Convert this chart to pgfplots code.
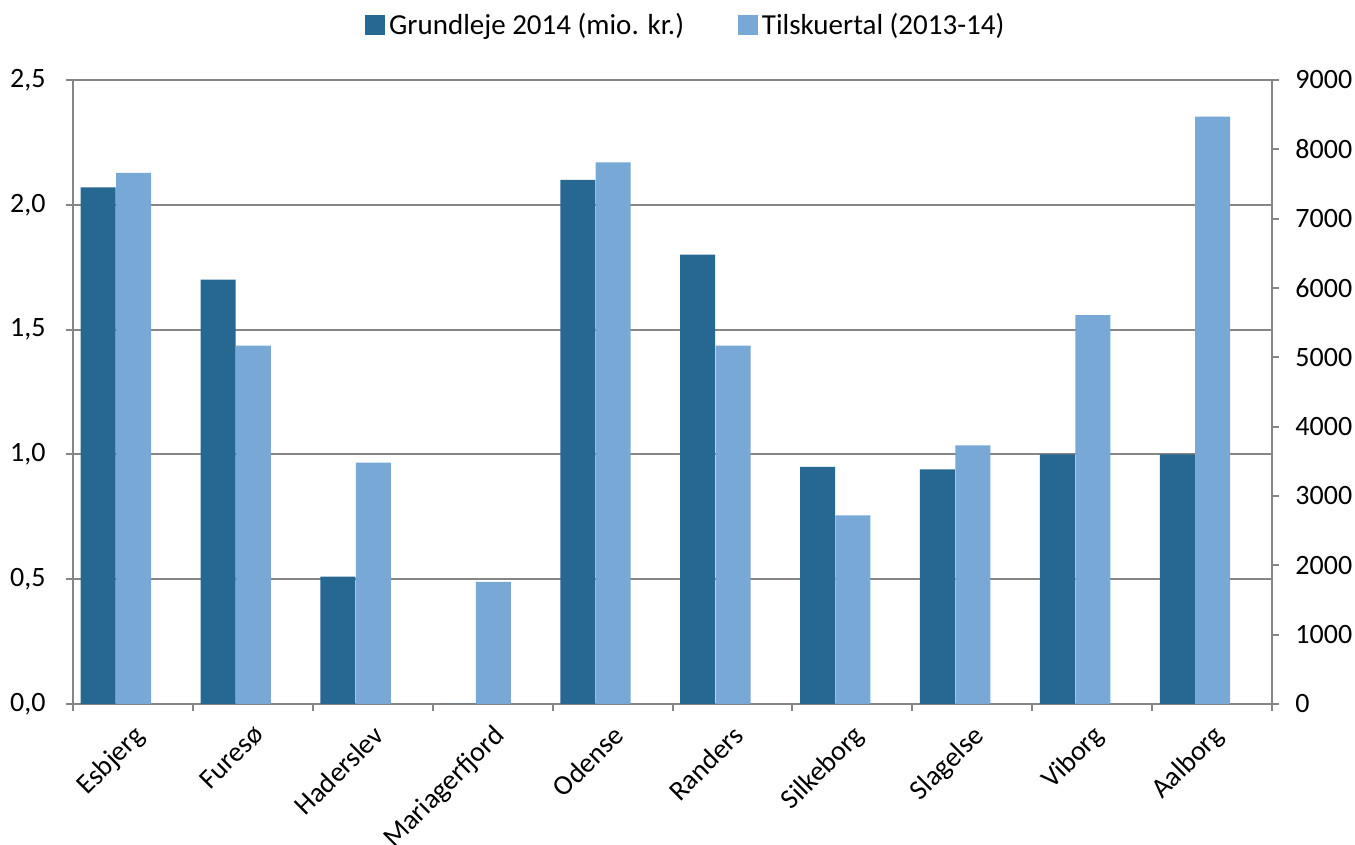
\documentclass[border=0pt]{standalone}
\usepackage{fontspec}
\setmainfont{Carlito}
\usepackage{pgfplots}
\pgfplotsset{compat=1.18}
\definecolor{dark}{RGB}{38,104,146}
\definecolor{light}{RGB}{119,168,214}
\definecolor{axgray}{RGB}{134,134,134}
\begin{document}
\begin{tikzpicture}
\path[use as bounding box] (-36.5pt,-70.5pt) rectangle (641pt,352pt);
\pgfplotsset{
  common/.style={
    at={(0,0)}, anchor=south west, scale only axis,
    width=599.5pt, height=312pt,
    xmin=-0.5, xmax=9.5, ymin=0,
    tick align=outside,
    major tick length=3.5pt, minor tick length=3.5pt,
    every tick/.style={draw=axgray, line width=1pt},
    axis line style={draw=axgray, line width=1pt, -},
    tick label style={font=\fontsize{14}{16}\selectfont},
    bar width=0.292,
    scaled y ticks=false,
  }
}
\begin{axis}[common,
  ymax=2.5,
  axis x line*=bottom, axis y line*=left,
  ytick={0,0.5,1,1.5,2,2.5},
  ymajorgrids, grid style={draw=axgray, line width=1pt},
  yticklabel style={inner sep=0pt, xshift=-10pt,
    /pgf/number format/.cd, fixed, fixed zerofill, precision=1, use comma, assume math mode=true},
  xtick={0,1,2,3,4,5,6,7,8,9},
  xticklabels={Esbjerg, Furesø, Haderslev, Mariagerfjord, Odense, Randers, Silkeborg, Slagelse, Viborg, Aalborg},
  major x tick style={draw=none},
  minor xtick={-0.5,0.5,1.5,2.5,3.5,4.5,5.5,6.5,7.5,8.5,9.5},
  xticklabel style={inner sep=0pt, xshift=-0.5pt, yshift=-6pt, anchor=north east, rotate=45},
]
\addplot[ybar, fill=dark, draw=none, bar shift=-0.29, forget plot] coordinates {
  (0,2.07) (1,1.70) (2,0.51) (3,0) (4,2.10) (5,1.80) (6,0.95) (7,0.94) (8,1.00) (9,1.00)};
\end{axis}
\begin{axis}[common,
  ymax=9000,
  axis y line*=right, axis x line=none,
  xtick=\empty,
  ytick={0,1000,2000,3000,4000,5000,6000,7000,8000,9000},
  yticklabel style={inner sep=0pt, xshift=8pt,
    /pgf/number format/.cd, fixed, 1000 sep={}, assume math mode=true},
  legend style={at={(0.512,1.088)}, anchor=center, draw=none, fill=none,
    legend columns=2, font=\fontsize{14.5}{17}\selectfont,
    /tikz/every even column/.append style={column sep=25pt}},
  legend cell align=left,
]
\addlegendimage{legend image code/.code={\fill[dark] (0pt,-4.75pt) rectangle (9.5pt,4.75pt);}}
\addlegendentry{Grundleje 2014 (mio. kr.)}
\addlegendimage{legend image code/.code={\fill[light] (0pt,-4.75pt) rectangle (9.5pt,4.75pt);}}
\addlegendentry{Tilskuertal (2013-14)}
\addplot[ybar, fill=light, draw=none, bar shift=0.005, forget plot] coordinates {
  (0,7660) (1,5170) (2,3480) (3,1760) (4,7810) (5,5170) (6,2720) (7,3730) (8,5610) (9,8470)};
\end{axis}
\end{tikzpicture}
\end{document}
